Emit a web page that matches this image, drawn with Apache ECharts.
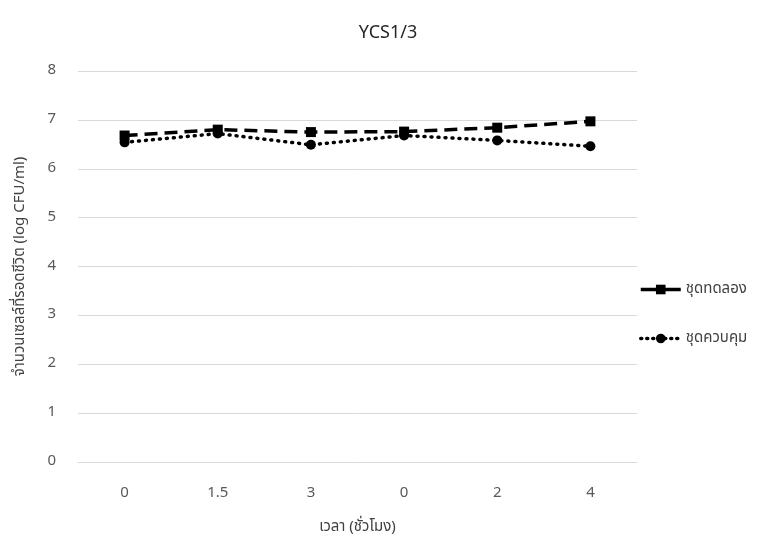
<!DOCTYPE html>
<html><head><meta charset="utf-8">
<script src="https://cdn.jsdelivr.net/npm/echarts@6/dist/echarts.min.js"></script>
<style>html,body{margin:0;padding:0;background:#fff}#c{width:779px;height:541px}</style>
</head><body><div id="c"></div>
<script>
const categories = ['0', '1.5', '3', '0', '2', '4'];
const seriesTreatment = [6.68, 6.80, 6.75, 6.76, 6.84, 6.97];
const seriesControl = [6.54, 6.72, 6.49, 6.68, 6.58, 6.46];
const seriesNames = ['ชุดทดลอง', 'ชุดควบคุม'];
const titleText = 'YCS1/3';
const xName = 'เวลา (ชั่วโมง)';
const yName = 'จำนวนเซลล์ที่รอดชีวิต (log CFU/ml)';
const font = 'Tahoma, "Noto Sans Thai", "Noto Sans", "DejaVu Sans", sans-serif';

const chart = echarts.init(document.getElementById('c'));
chart.setOption({
  animation: false,
  backgroundColor: '#fff',
  title: { text: titleText, left: 383, top: 20, textAlign: 'center',
    textStyle: { fontFamily: font, fontSize: 18, fontWeight: 'normal', color: '#262626' } },
  grid: { left: 78, right: 142, top: 71, bottom: 79 },
  legend: {
    orient: 'vertical', left: 634, top: 277, itemGap: 34, itemWidth: 40, itemHeight: 12,
    textStyle: { fontFamily: font, fontSize: 15, color: '#404040' },
    data: [
      { name: seriesNames[0], lineStyle: { type: 'solid', width: 3.5 } },
      { name: seriesNames[1], lineStyle: { type: [1, 5], width: 3.5, cap: 'round' } }
    ]
  },
  xAxis: {
    type: 'category', data: categories, boundaryGap: true,
    name: xName, nameLocation: 'middle', nameGap: 58,
    nameTextStyle: { fontFamily: font, fontSize: 15, color: '#404040' },
    axisLine: { show: true, lineStyle: { color: '#d9d9d9' } },
    axisTick: { show: false },
    axisLabel: { fontFamily: font, fontSize: 15, color: '#595959', margin: 24 }
  },
  yAxis: {
    type: 'value', min: 0, max: 8, interval: 1,
    name: yName, nameLocation: 'middle', nameGap: 50, nameRotate: 90,
    nameTextStyle: { fontFamily: font, fontSize: 15, color: '#404040' },
    axisLine: { show: false }, axisTick: { show: false },
    splitLine: { lineStyle: { color: '#d9d9d9' } },
    axisLabel: { fontFamily: font, fontSize: 15, color: '#595959', margin: 22 }
  },
  series: [
    { name: seriesNames[0], type: 'line', data: seriesTreatment,
      symbol: 'rect', symbolSize: 10,
      itemStyle: { color: '#000' },
      lineStyle: { color: '#000', width: 3.5, type: [13, 7] } },
    { name: seriesNames[1], type: 'line', data: seriesControl,
      symbol: 'circle', symbolSize: 10,
      itemStyle: { color: '#000' },
      lineStyle: { color: '#000', width: 3.5, type: [1, 6], cap: 'round' } }
  ]
});
</script></body></html>
